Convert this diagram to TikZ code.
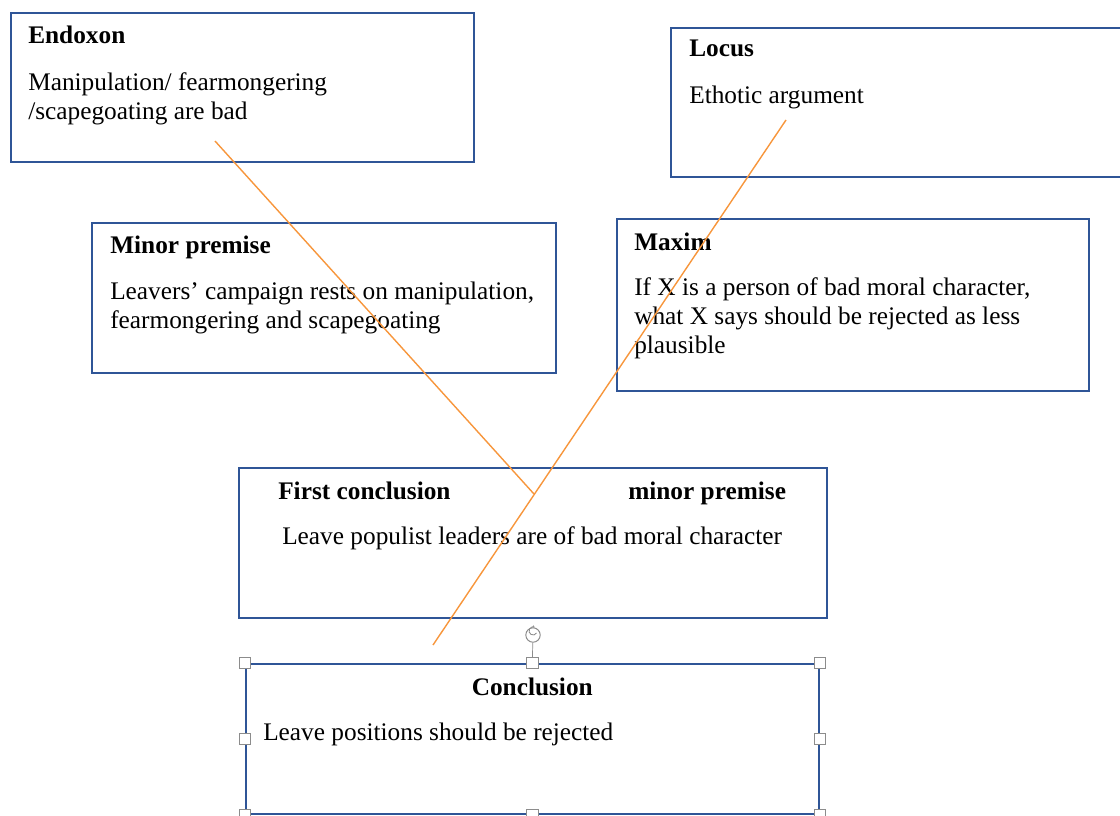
\documentclass[tikz,border=0pt]{standalone}
\usepackage{fontspec}
\setmainfont{Liberation Serif}
\usetikzlibrary{positioning,calc,arrows.meta}
\definecolor{boxblue}{RGB}{47,85,151}
\definecolor{linkorange}{RGB}{247,150,60}
\definecolor{handlegray}{RGB}{140,140,140}

\begin{document}
\begin{tikzpicture}[
		x=0.025cm, y=-0.025cm,
		box/.style={draw=boxblue, line width=1.4pt, rectangle, anchor=north west, inner sep=0pt},
		boxsize/.style 2 args={minimum width=#1*0.025cm, minimum height=#2*0.025cm},
		head/.style={anchor=base west, inner sep=0pt, font=\fontsize{18}{20.6}\selectfont\bfseries},
		body/.style={anchor=base west, inner sep=0pt, align=left, font=\fontsize{18}{20.6}\selectfont},
		link/.style={draw=linkorange, line width=1pt},
		handle/.style={draw=handlegray, fill=white, line width=0.4pt, minimum size=0.28cm, inner sep=0pt}
		]
		\useasboundingbox (0,0) rectangle (1120,816);
		\clip (0,0) rectangle (1120,816);
		
		% the boxes
		\node[box, boxsize={463}{149}] (endoxon) at (10,12) {};
		\node[box, boxsize={460}{149}] (locus) at (670,27) {};
		\node[box, boxsize={464}{150}] (minor) at (91,222) {};
		\node[box, boxsize={472}{172}] (maxim) at (616,218) {};
		\node[box, boxsize={588}{150}] (first) at (238,467) {};
		\node[box, boxsize={573}{150}, line width=1.1pt] (concl) at (245,663) {};
		
		% their texts (base of a multi-line text is its last line)
		\node[head] (endoxonhead) at ([shift={(18,31)}]endoxon.north west) {Endoxon};
		\node[body] (endoxonbody) at ([shift={(18,107)}]endoxon.north west) {Manipulation/ fearmongering\\/scapegoating are bad};
		\node[head] (locushead) at ([shift={(19,29)}]locus.north west) {Locus};
		\node[body] (locusbody) at ([shift={(19,76)}]locus.north west) {Ethotic argument};
		\node[head] (minorhead) at ([shift={(19,31)}]minor.north west) {Minor premise};
		\node[body] (minorbody) at ([shift={(19,106)}]minor.north west) {Leavers’ campaign rests on manipulation,\\fearmongering and scapegoating};
		\node[head] (maximhead) at ([shift={(18,32)}]maxim.north west) {Maxim};
		\node[body] (maximbody) at ([shift={(18,135)}]maxim.north west) {If X is a person of bad moral character,\\what X says should be rejected as less\\plausible};
		\node[head] (firsthead) at ([shift={(40,32)}]first.north west) {First conclusion};
		\node[head] (firstminor) at ([shift={(390,32)}]first.north west) {minor premise};
		\node[body] (firstbody) at ([shift={(44,77)}]first.north west) {Leave populist leaders are of bad moral character};
		\node[head, anchor=base] (conclhead) at ([shift={(0,32)}]concl.north) {Conclusion};
		\node[body] (conclbody) at ([shift={(18,77)}]concl.north west) {Leave positions should be rejected};
		
		% the orange links
		\coordinate (endoxontail) at (215,141);
		\coordinate (locustail) at (786,120);
		\coordinate (join) at (534,494);
		\coordinate (locushead) at (433,645);
		\draw[link] (endoxontail) -- (join);
		\draw[link] (locustail) -- (locushead);
		
		% selection handles
		\node[draw=handlegray, fill=white, circle, minimum size=0.36cm, inner sep=0pt, line width=0.7pt] (rotate) at (533,635) {};
		\draw[handlegray, line width=0.6pt, -{Stealth[length=2pt]}] ([shift={(3.5,-2)}]rotate.center) arc[start angle=30, end angle=300, radius=4];
		\foreach \corner [count=\i] in {north west, north, north east, west, east, south west, south, south east}
			\node[handle] (h\i) at (concl.\corner) {};
		\draw[handlegray, line width=0.5pt] (rotate) -- (h2);
	\end{tikzpicture}
\end{document}
